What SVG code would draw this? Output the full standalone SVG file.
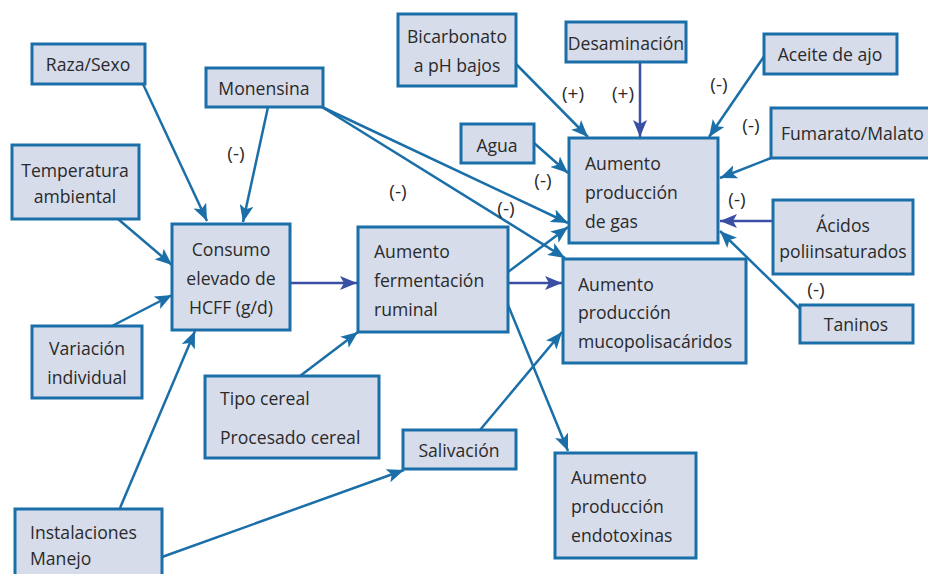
<svg xmlns="http://www.w3.org/2000/svg" width="928" height="574" viewBox="0 0 928 574">
<defs>
<style>
.box{fill:#d6dcea;stroke:#1b6fa9;stroke-width:3}
.t{font-family:"Open Sans","Noto Sans",sans-serif;font-size:17.6px;fill:#2a2a2a}
.c{text-anchor:middle}
.lab{font-family:"Open Sans","Noto Sans",sans-serif;font-size:19px;fill:#2a2a2a;text-anchor:middle}
.e{stroke:#1b6fa9;stroke-width:2.5;fill:none;marker-end:url(#a)}
.e2{stroke:#3a4ea3;stroke-width:2.5;fill:none;marker-end:url(#b)}
</style>
<marker id="a" markerUnits="userSpaceOnUse" markerWidth="18" markerHeight="14" refX="17" refY="7" orient="auto"><path d="M0,0 L17,7 L0,14 L4,7 z" fill="#1b6fa9"/></marker>
<marker id="b" markerUnits="userSpaceOnUse" markerWidth="18" markerHeight="14" refX="17" refY="7" orient="auto"><path d="M0,0 L17,7 L0,14 L4,7 z" fill="#3a4ea3"/></marker>
</defs>
<rect width="928" height="574" fill="#ffffff"/>
<g id="connectors">
<line class="e" x1="143" y1="84" x2="207" y2="221"/>
<line class="e" x1="268" y1="107" x2="243" y2="222"/>
<line class="e" x1="118" y1="219" x2="172" y2="265"/>
<line class="e" x1="112" y1="326" x2="172" y2="295"/>
<line class="e" x1="120" y1="508" x2="195" y2="331"/>
<line class="e2" x1="291" y1="283" x2="357" y2="283"/>
<line class="e" x1="300" y1="376" x2="358" y2="332"/>
<line class="e" x1="162" y1="557" x2="404" y2="470"/>
<line class="e" x1="322" y1="107" x2="568" y2="223"/>
<line class="e" x1="322" y1="107" x2="565" y2="258"/>
<line class="e" x1="508" y1="272" x2="568" y2="227"/>
<line class="e2" x1="509" y1="283" x2="562" y2="283"/>
<line class="e" x1="508" y1="305" x2="568" y2="451"/>
<line class="e" x1="480" y1="430" x2="562" y2="332"/>
<line class="e" x1="516" y1="64" x2="588" y2="137"/>
<line class="e2" x1="640" y1="63" x2="640" y2="137"/>
<line class="e" x1="765" y1="55" x2="709" y2="137"/>
<line class="e" x1="534" y1="143" x2="568" y2="173"/>
<line class="e" x1="771" y1="158" x2="720" y2="178"/>
<line class="e2" x1="773" y1="221" x2="720" y2="221"/>
<line class="e" x1="800" y1="309" x2="720" y2="231"/>
</g>
<g id="labels">
<text class="lab" x="236" y="160">(-)</text>
<text class="lab" x="398" y="198">(-)</text>
<text class="lab" x="506" y="215">(-)</text>
<text class="lab" x="543" y="187">(-)</text>
<text class="lab" x="573" y="100">(+)</text>
<text class="lab" x="623" y="100">(+)</text>
<text class="lab" x="719" y="91">(-)</text>
<text class="lab" x="751" y="132">(-)</text>
<text class="lab" x="737" y="206">(-)</text>
<text class="lab" x="816" y="296">(-)</text>
</g>
<g id="n-raza"><rect class="box" x="32" y="44" width="113" height="40"/><text class="t c" x="88" y="71">Raza/Sexo</text></g>
<g id="n-monensina"><rect class="box" x="206" y="68" width="117" height="39"/><text class="t c" x="264" y="95">Monensina</text></g>
<g id="n-temp"><rect class="box" x="12" y="145" width="127" height="74"/><text class="t c" x="75" y="177">Temperatura</text><text class="t c" x="75" y="203">ambiental</text></g>
<g id="n-consumo"><rect class="box" x="172" y="224" width="118" height="106"/><text class="t c" x="231" y="256">Consumo</text><text class="t c" x="231" y="285">elevado de</text><text class="t c" x="231" y="314">HCFF (g/d)</text></g>
<g id="n-variacion"><rect class="box" x="32" y="326" width="110" height="72"/><text class="t c" x="87" y="355">Variación</text><text class="t c" x="87" y="384">individual</text></g>
<g id="n-fermentacion"><rect class="box" x="358" y="227" width="150" height="105"/><text class="t" x="374" y="258">Aumento</text><text class="t" x="374" y="287">fermentación</text><text class="t" x="374" y="316">ruminal</text></g>
<g id="n-cereal"><rect class="box" x="205" y="376" width="174" height="82"/><text class="t" x="220" y="405">Tipo cereal</text><text class="t" x="220" y="444">Procesado cereal</text></g>
<g id="n-salivacion"><rect class="box" x="403" y="430" width="113" height="39"/><text class="t c" x="459" y="457">Salivación</text></g>
<g id="n-instalaciones"><rect class="box" x="15" y="509" width="147" height="70"/><text class="t" x="30" y="539">Instalaciones</text><text class="t" x="30" y="565">Manejo</text></g>
<g id="n-bicarbonato"><rect class="box" x="398" y="14" width="118" height="72"/><text class="t c" x="457" y="43">Bicarbonato</text><text class="t c" x="457" y="72">a pH bajos</text></g>
<g id="n-desaminacion"><rect class="box" x="566" y="22" width="120" height="40"/><text class="t c" x="626" y="50">Desaminación</text></g>
<g id="n-aceite"><rect class="box" x="764" y="34" width="133" height="40"/><text class="t c" x="830" y="61">Aceite de ajo</text></g>
<g id="n-agua"><rect class="box" x="461" y="124" width="73" height="39"/><text class="t c" x="497" y="152">Agua</text></g>
<g id="n-gas"><rect class="box" x="569" y="138" width="149" height="105"/><text class="t" x="585" y="170">Aumento</text><text class="t" x="585" y="199">producción</text><text class="t" x="585" y="228">de gas</text></g>
<g id="n-fumarato"><rect class="box" x="771" y="108" width="160" height="50"/><text class="t" x="781" y="140">Fumarato/Malato</text></g>
<g id="n-acidos"><rect class="box" x="773" y="200" width="140" height="74"/><text class="t c" x="843" y="232">Ácidos</text><text class="t c" x="843" y="258">poliinsaturados</text></g>
<g id="n-taninos"><rect class="box" x="800" y="305" width="113" height="38"/><text class="t c" x="856" y="331">Taninos</text></g>
<g id="n-muco"><rect class="box" x="563" y="259" width="183" height="104"/><text class="t" x="578" y="291">Aumento</text><text class="t" x="578" y="319">producción</text><text class="t" x="578" y="348">mucopolisacáridos</text></g>
<g id="n-endo"><rect class="box" x="555" y="453" width="141" height="105"/><text class="t" x="571" y="484">Aumento</text><text class="t" x="571" y="513">producción</text><text class="t" x="571" y="542">endotoxinas</text></g>
</svg>
